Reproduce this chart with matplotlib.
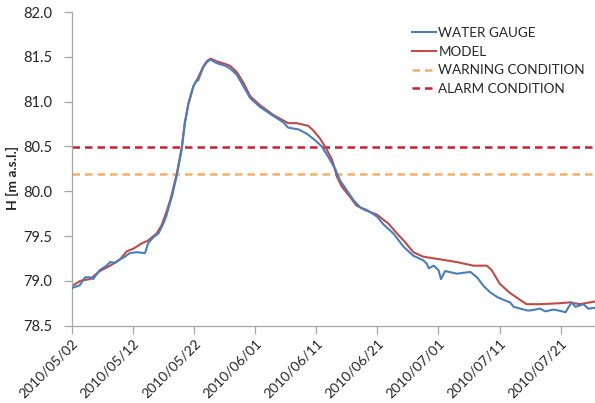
import numpy as np
import matplotlib
matplotlib.use("Agg")
import matplotlib.pyplot as plt
from datetime import datetime, timedelta

plt.rcParams['font.family'] = ['Lato', 'DejaVu Sans']

start = datetime(2010, 5, 2)

gauge_days = [0, 1.3, 2.2, 3.0, 3.5, 4.6, 5.7, 6.3, 7.1, 7.9, 8.7, 9.5, 10.6, 12.0,
              12.5, 13.4, 14.2, 15.0, 15.5, 16.2, 16.4, 17.2, 18.0, 18.5, 19.1, 19.9,
              20.3, 20.7, 21.5, 22.1, 22.7, 23.7, 25.1, 25.9, 27.0, 28.1, 29.2, 30.8,
              33.0, 34.6, 35.4, 37.1, 38.5, 39.8, 40.9, 42.0, 43.1, 43.9, 45.0, 46.1,
              47.2, 48.3, 49.9, 51.0, 52.6, 54.3, 55.9, 57.5, 58.1, 58.4, 59.2, 60.0,
              60.4, 61.1, 63.0, 65.2, 66.3, 67.4, 68.5, 69.6, 70.6, 71.7, 72.3, 73.4,
              74.5, 75.0, 76.6, 77.5, 78.8, 79.6, 80.8, 81.3, 81.8, 82.4, 83.7, 84.5, 85.6]
gauge_vals = [78.92, 78.95, 79.04, 79.04, 79.02, 79.12, 79.17, 79.21, 79.20, 79.24, 79.27,
              79.31, 79.32, 79.31, 79.42, 79.49, 79.53, 79.64, 79.73, 79.90, 79.94, 80.18,
              80.47, 80.76, 80.98, 81.17, 81.22, 81.24, 81.38, 81.44, 81.47, 81.43, 81.40,
              81.37, 81.30, 81.17, 81.04, 80.94, 80.84, 80.77, 80.71, 80.69, 80.64, 80.57,
              80.50, 80.38, 80.25, 80.12, 80.01, 79.90, 79.82, 79.79, 79.72, 79.63, 79.53,
              79.38, 79.28, 79.23, 79.19, 79.14, 79.17, 79.12, 79.02, 79.11, 79.08, 79.10,
              79.04, 78.94, 78.87, 78.82, 78.79, 78.76, 78.71, 78.69, 78.67, 78.67, 78.69,
              78.66, 78.68, 78.67, 78.65, 78.71, 78.76, 78.71, 78.74, 78.69, 78.70]

model_days = [0, 1.4, 3.0, 4.6, 6.3, 7.9, 9.0, 10.1, 11.5, 12.5, 13.9, 14.7, 15.5, 16.2,
              17.2, 18.0, 18.5, 19.1, 19.9, 20.7, 21.5, 22.1, 22.7, 23.7, 25.1, 25.9,
              27.0, 28.1, 29.2, 30.8, 33.0, 34.6, 35.4, 36.8, 38.7, 39.5, 40.6, 41.6,
              42.6, 43.4, 44.2, 45.5, 46.6, 48.0, 49.9, 51.8, 53.2, 54.3, 55.9, 57.5,
              60.3, 63.0, 65.7, 67.9, 68.7, 70.0, 71.6, 73.3, 74.4, 76.6, 79.6, 81.5,
              83.1, 85.6]
model_vals = [78.94, 79.00, 79.02, 79.11, 79.17, 79.24, 79.33, 79.36, 79.42, 79.45, 79.53,
              79.62, 79.77, 79.92, 80.20, 80.49, 80.76, 80.98, 81.17, 81.27, 81.39, 81.45,
              81.48, 81.45, 81.42, 81.40, 81.33, 81.21, 81.06, 80.96, 80.85, 80.79, 80.76,
              80.76, 80.73, 80.68, 80.59, 80.48, 80.35, 80.16, 80.05, 79.94, 79.84, 79.79,
              79.74, 79.64, 79.53, 79.45, 79.32, 79.27, 79.24, 79.21, 79.17, 79.17, 79.12,
              78.97, 78.87, 78.79, 78.74, 78.74, 78.75, 78.76, 78.74, 78.77]

warning_level = 80.19
alarm_level = 80.495

series_names = ["WATER GAUGE", "MODEL", "WARNING CONDITION", "ALARM CONDITION"]
y_ticks = [78.5, 79.0, 79.5, 80.0, 80.5, 81.0, 81.5, 82.0]

gauge_t = [start + timedelta(days=d) for d in gauge_days]
model_t = [start + timedelta(days=d) for d in model_days]

fig = plt.figure(figsize=(5.95, 4.03), dpi=100)
ax = fig.add_axes([71.7 / 595, 1 - 325.7 / 403, 1 - 71.7 / 595, (325.7 - 12) / 403])

blue = '#4A7EBB'
red = '#BE4B48'
orange = '#F2B06A'
alarm = '#CC1F2E'

ax.axhline(warning_level, color=orange, lw=1.8, ls=(0, (3, 2)), label=series_names[2], zorder=1)
ax.axhline(alarm_level, color=alarm, lw=1.8, ls=(0, (3, 2)), label=series_names[3], zorder=1)
ax.plot(gauge_t, gauge_vals, color=blue, lw=1.5, label=series_names[0], zorder=3)
ax.plot(model_t, model_vals, color=red, lw=1.5, label=series_names[1], zorder=2)

ax.set_ylim(78.5, 82.0)
ax.set_yticks(y_ticks)
ax.set_yticklabels([f"{v:.1f}" for v in y_ticks])
ax.set_xlim(start, start + timedelta(days=85.6))
ticks = [start + timedelta(days=10 * i) for i in range(9)]
ax.set_xticks(ticks)
ax.set_xticklabels([t.strftime('%Y/%m/%d') for t in ticks], rotation=45,
                   ha='right', rotation_mode='anchor')

for s in ['top', 'right']:
    ax.spines[s].set_visible(False)
for s in ['left', 'bottom']:
    ax.spines[s].set_color('#A6A6A6')
    ax.spines[s].set_linewidth(0.9)
ax.tick_params(axis='both', colors='#A6A6A6', length=6, width=0.9, labelcolor='#262626')
ax.tick_params(axis='y', pad=8, labelsize=10.5)
ax.tick_params(axis='x', pad=2, labelsize=10)

ax.set_ylabel("H [m a.s.l.]", fontsize=10, fontweight='bold', color='#262626')
ax.yaxis.set_label_coords((19 - 71.7) / 523.3, 0.47)

handles, labels = ax.get_legend_handles_labels()
order = [2, 3, 0, 1]
handles = [handles[i] for i in order]
labels = [labels[i] for i in order]
leg = fig.legend(handles, labels, loc='upper left', bbox_to_anchor=(412 / 595, 1 - 27 / 403),
                 frameon=False, fontsize=9.7, handlelength=1.8, handletextpad=0.15,
                 labelspacing=0.5, borderpad=0, borderaxespad=0)
for t in leg.get_texts():
    t.set_color('#262626')

fig.savefig("out.png", dpi=100)
